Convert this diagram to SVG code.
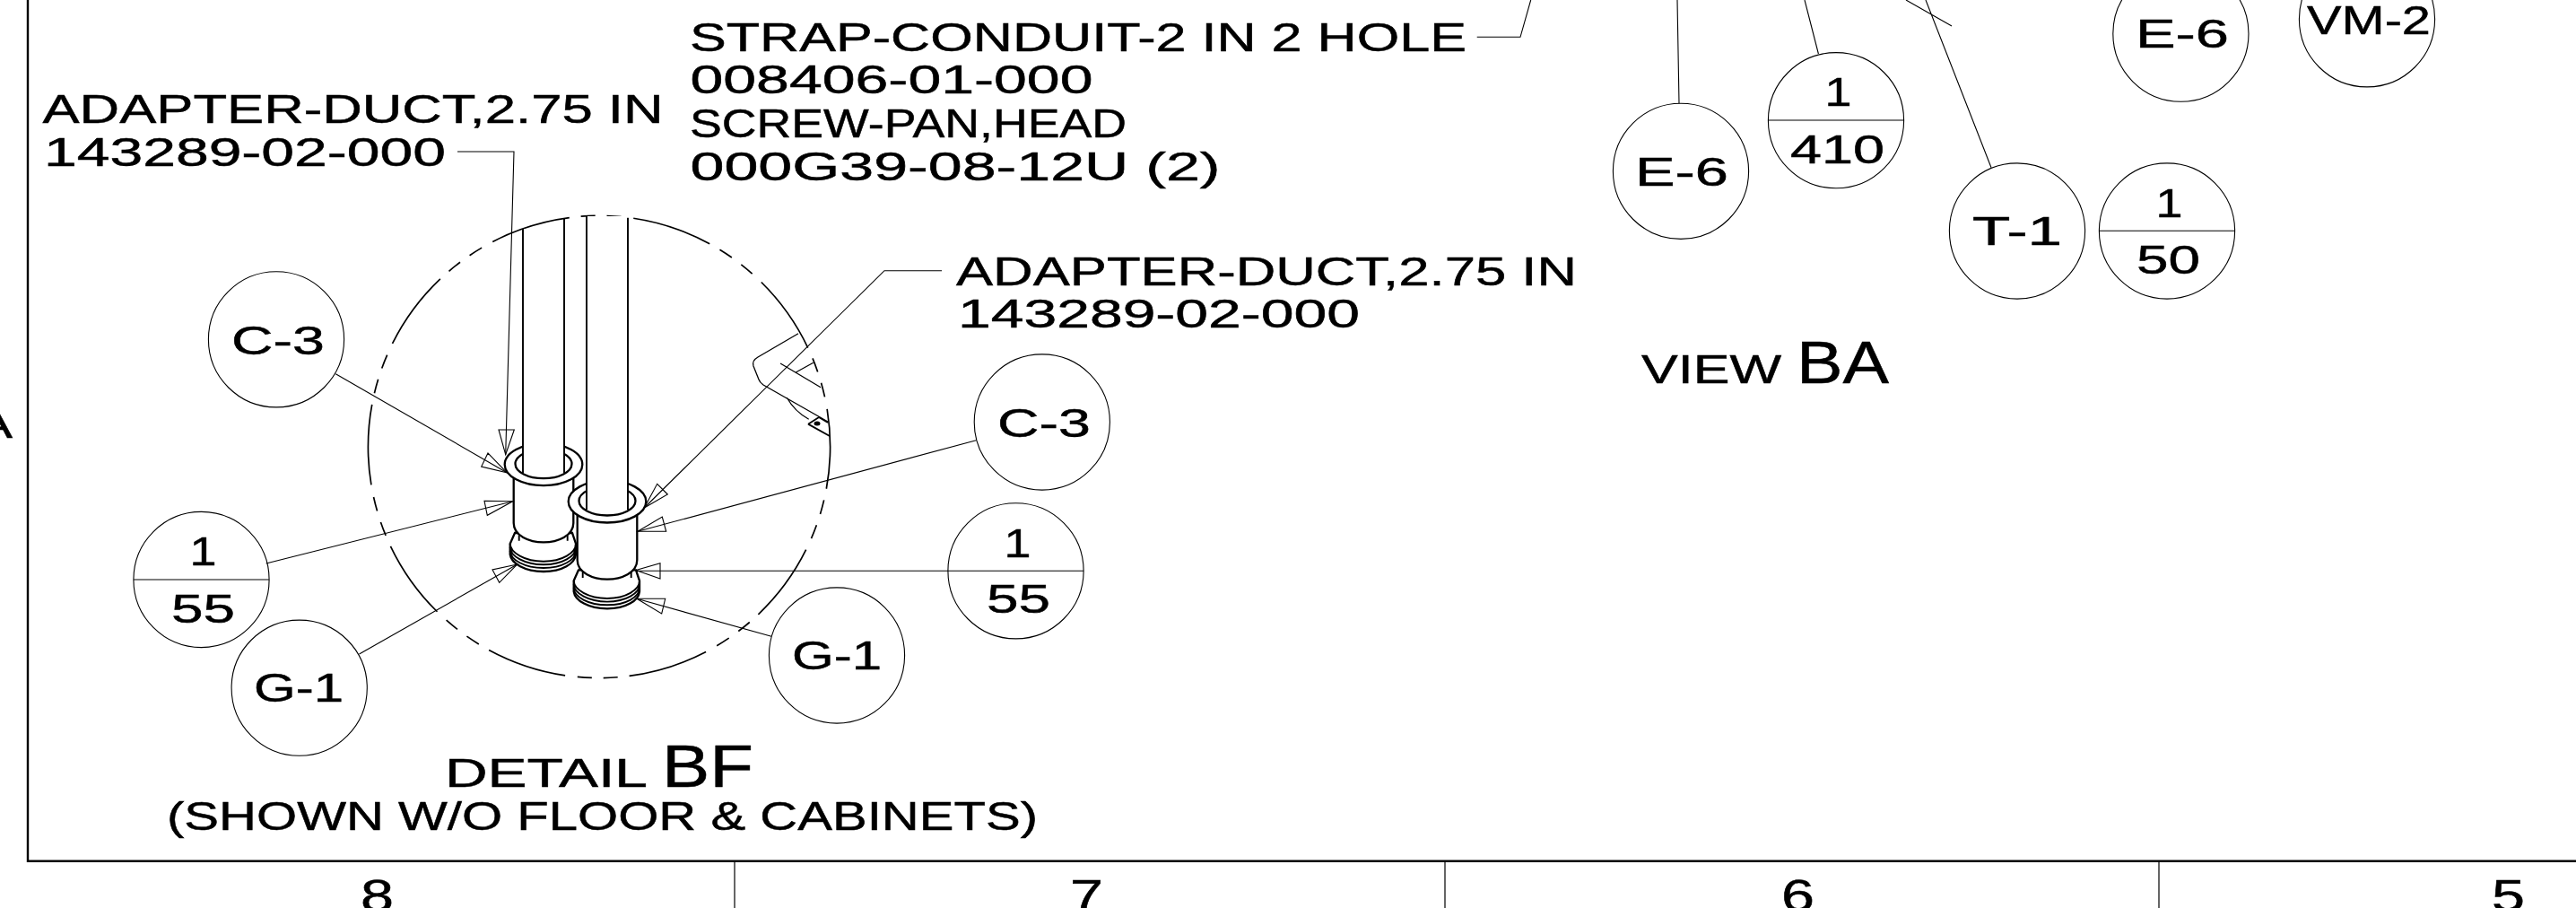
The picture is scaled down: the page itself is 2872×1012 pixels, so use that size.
<svg xmlns="http://www.w3.org/2000/svg" xmlns:xlink="http://www.w3.org/1999/xlink" width="2872" height="1012" viewBox="0 0 2872 1012">
<style>
text{font-family:"Liberation Sans",Arial,sans-serif;font-size:45px;fill:#000;stroke:#000;stroke-width:.5}
.big{font-size:67px}
.dig{font-size:50px}
.bubble{fill:none;stroke:#000;stroke-width:1.1}
.lead{fill:none;stroke:#000;stroke-width:1.1}
.head{fill:none;stroke:#000;stroke-width:1.1}
.frame{fill:none;stroke:#000;stroke-width:2.4}
.tick{fill:none;stroke:#000;stroke-width:1.2}
.part{fill:#fff;stroke:#000;stroke-width:2.3}
.edge{fill:none;stroke:#000;stroke-width:1.9}
.detail{fill:none;stroke:#000;stroke-width:1.3}
.dash{fill:none;stroke:#000;stroke-width:1.7;stroke-dasharray:90 13 16 13 16 13.86;stroke-dashoffset:43}
</style>
<defs>
<g id="adapter">
<path class="part" d="M574 594L568.7 606V618C570 628 585 637 606 637C627 637 641 628 642 618V606L638 594Z"/>
<path class="edge" d="M568.7 606C569 616 585 625.7 606 625.7C627 625.7 642 616 642 606M568.7 610C569 620 585 629.3 606 629.3C627 629.3 642 620 642 610M568.7 614C569 624 585 633 606 633C627 633 642 624 642 614"/>
<path class="part" d="M572.7 530V583C572.7 597 590 604.4 606 604.4C622 604.4 639.3 597 639.3 583V530Z"/>
<path class="edge" d="M578.7 596.5V602.7M632.7 596.5V602.7"/>
<ellipse class="part" cx="606" cy="517.7" rx="43.3" ry="23.5"/>
<ellipse class="part" cx="606" cy="517" rx="31.5" ry="16.2"/>
</g>
</defs>
<rect width="2872" height="1012" fill="#fff"/>
<g id="frame">
<path class="frame" d="M31 0V959.7H2872"/>
<path class="tick" d="M819 960V1012M1611 960V1012M2407 960V1012"/>
<text class="dig" x="402" y="1016" textLength="37" lengthAdjust="spacingAndGlyphs">8</text>
<text class="dig" x="1193" y="1016" textLength="37" lengthAdjust="spacingAndGlyphs">7</text>
<text class="dig" x="1986" y="1016" textLength="37" lengthAdjust="spacingAndGlyphs">6</text>
<text class="dig" x="2778" y="1016" textLength="37" lengthAdjust="spacingAndGlyphs">5</text>
<text x="-26" y="488.3" textLength="40" lengthAdjust="spacingAndGlyphs">A</text>
</g>
<g id="detail-BF">
<circle class="dash" cx="668" cy="498" r="257.6"/>
<path class="detail" d="M890 371.7L845 398Q838 402 840 408L846 423Q847 426 851 429L923 470M870 405L915 431.7M887.3 415L906.7 404.3M877.3 443.3C884 455 892 462 901.7 467.3"/>
<path class="edge" d="M901 472.7L913 465L923 471M901 472.7L925 486"/>
<ellipse cx="911" cy="472" rx="3.5" ry="2.5" fill="#000"/>
<use xlink:href="#adapter" href="#adapter"/>
<rect x="583" y="255" width="46" height="264" fill="#fff"/>
<path class="edge" d="M583 255V527M629 244V527"/>
<use xlink:href="#adapter" href="#adapter" transform="translate(71 41.3)"/>
<rect x="654" y="241" width="46" height="319" fill="#fff"/>
<path class="edge" d="M654 241V568M700 242.7V568"/>
</g>
<g id="connectors">
<path class="lead" d="M510 169H573L563.7 506.7"/>
<polygon class="head" points="563.7,506.7 556,479 573.3,479"/>
<path class="lead" d="M374.3 416.7L565 526.7"/>
<polygon class="head" points="565,526.7 544,505 536.7,520"/>
<path class="lead" d="M296.7 628L571.7 558.7"/>
<polygon class="head" points="571.7,558.7 540,558.3 543.3,574.3"/>
<path class="lead" d="M400.5 729L576.7 629"/>
<polygon class="head" points="576.7,629 549,635 556.7,649.3"/>
<path class="lead" d="M1050 301.7H986L718.3 566"/>
<polygon class="head" points="718.3,566 732.7,539.3 744.3,551"/>
<path class="lead" d="M1088.3 490.7L711 592.3"/>
<polygon class="head" points="711,592.3 738.3,576 742.7,592.3"/>
<path class="lead" d="M1208 636.3H709"/>
<polygon class="head" points="709,635.5 736,627.7 736,645"/>
<path class="lead" d="M860 709.3L710 667.3"/>
<polygon class="head" points="710,667.3 741.7,667.3 737.7,684"/>
<path class="lead" d="M1646.7 41.3H1695L1706.7 0"/>
<path class="lead" d="M1870 0L1872 115M2012 0L2027.4 60M2147 0L2220 186.7M2125 0L2176 29"/>
</g>
<g id="label-strap">
<text x="769" y="57.3" textLength="866" lengthAdjust="spacingAndGlyphs">STRAP-CONDUIT-2 IN 2 HOLE</text>
<text x="769.5" y="104" textLength="449" lengthAdjust="spacingAndGlyphs">008406-01-000</text>
<text x="769" y="152.7" textLength="487" lengthAdjust="spacingAndGlyphs">SCREW-PAN,HEAD</text>
<text x="769.5" y="200.5" textLength="591" lengthAdjust="spacingAndGlyphs">000G39-08-12U (2)</text>
</g>
<g id="label-adapter-left">
<text x="47.5" y="137" textLength="692" lengthAdjust="spacingAndGlyphs">ADAPTER-DUCT,2.75 IN</text>
<text x="49" y="185" textLength="448" lengthAdjust="spacingAndGlyphs">143289-02-000</text>
</g>
<g id="label-adapter-right">
<text x="1066" y="317.7" textLength="692" lengthAdjust="spacingAndGlyphs">ADAPTER-DUCT,2.75 IN</text>
<text x="1068" y="365.3" textLength="448" lengthAdjust="spacingAndGlyphs">143289-02-000</text>
</g>
<g id="bubble-c3-left">
<circle class="bubble" cx="308" cy="378.3" r="75.6"/>
<text x="258" y="395" textLength="104" lengthAdjust="spacingAndGlyphs">C-3</text>
</g>
<g id="bubble-155-left">
<circle class="bubble" cx="224.5" cy="646" r="75.6"/>
<line class="bubble" x1="149" y1="646" x2="300" y2="646"/>
<text x="211.5" y="630.4" textLength="30" lengthAdjust="spacingAndGlyphs">1</text>
<text x="191" y="694" textLength="71" lengthAdjust="spacingAndGlyphs">55</text>
</g>
<g id="bubble-g1-left">
<circle class="bubble" cx="333.7" cy="766.7" r="75.6"/>
<text x="283" y="782" textLength="100" lengthAdjust="spacingAndGlyphs">G-1</text>
</g>
<g id="bubble-c3-right">
<circle class="bubble" cx="1161.8" cy="470.5" r="75.6"/>
<text x="1112" y="486.7" textLength="104" lengthAdjust="spacingAndGlyphs">C-3</text>
</g>
<g id="bubble-155-right">
<circle class="bubble" cx="1132.5" cy="636.3" r="75.6"/>
<text x="1119.5" y="620.7" textLength="30" lengthAdjust="spacingAndGlyphs">1</text>
<text x="1100" y="683.3" textLength="71" lengthAdjust="spacingAndGlyphs">55</text>
</g>
<g id="bubble-g1-right">
<circle class="bubble" cx="933" cy="730.5" r="75.6"/>
<text x="883" y="746" textLength="100" lengthAdjust="spacingAndGlyphs">G-1</text>
</g>
<g id="title-detail">
<text x="496" y="877" textLength="226" lengthAdjust="spacingAndGlyphs">DETAIL</text>
<text class="big" x="738" y="877" textLength="102" lengthAdjust="spacingAndGlyphs">BF</text>
<text x="186" y="925" textLength="971" lengthAdjust="spacingAndGlyphs">(SHOWN W/O FLOOR &amp; CABINETS)</text>
</g>
<g id="bubble-e6-a">
<circle class="bubble" cx="1874" cy="190.8" r="75.6"/>
<text x="1823" y="206.7" textLength="104" lengthAdjust="spacingAndGlyphs">E-6</text>
</g>
<g id="bubble-1410">
<circle class="bubble" cx="2047" cy="134.2" r="75.6"/>
<line class="bubble" x1="1971.5" y1="134" x2="2122.5" y2="134"/>
<text x="2034.5" y="118" textLength="30" lengthAdjust="spacingAndGlyphs">1</text>
<text x="1996" y="181.7" textLength="105" lengthAdjust="spacingAndGlyphs">410</text>
</g>
<g id="bubble-t1">
<circle class="bubble" cx="2249" cy="257.5" r="75.6"/>
<text x="2199" y="273" textLength="100" lengthAdjust="spacingAndGlyphs">T-1</text>
</g>
<g id="bubble-150">
<circle class="bubble" cx="2416" cy="257.5" r="75.6"/>
<line class="bubble" x1="2340.5" y1="257.3" x2="2491.5" y2="257.3"/>
<text x="2403.5" y="241.7" textLength="30" lengthAdjust="spacingAndGlyphs">1</text>
<text x="2382" y="305" textLength="71" lengthAdjust="spacingAndGlyphs">50</text>
</g>
<g id="bubble-e6-b">
<circle class="bubble" cx="2431.4" cy="37.6" r="75.6"/>
<text x="2381" y="53" textLength="104" lengthAdjust="spacingAndGlyphs">E-6</text>
</g>
<g id="bubble-vm2">
<circle class="bubble" cx="2639" cy="21.3" r="75.6"/>
<text x="2572" y="37.7" textLength="138" lengthAdjust="spacingAndGlyphs">VM-2</text>
</g>
<g id="title-view">
<text x="1830" y="426.7" textLength="156" lengthAdjust="spacingAndGlyphs">VIEW</text>
<text class="big" x="2003" y="426.7" textLength="103" lengthAdjust="spacingAndGlyphs">BA</text>
</g>
</svg>
